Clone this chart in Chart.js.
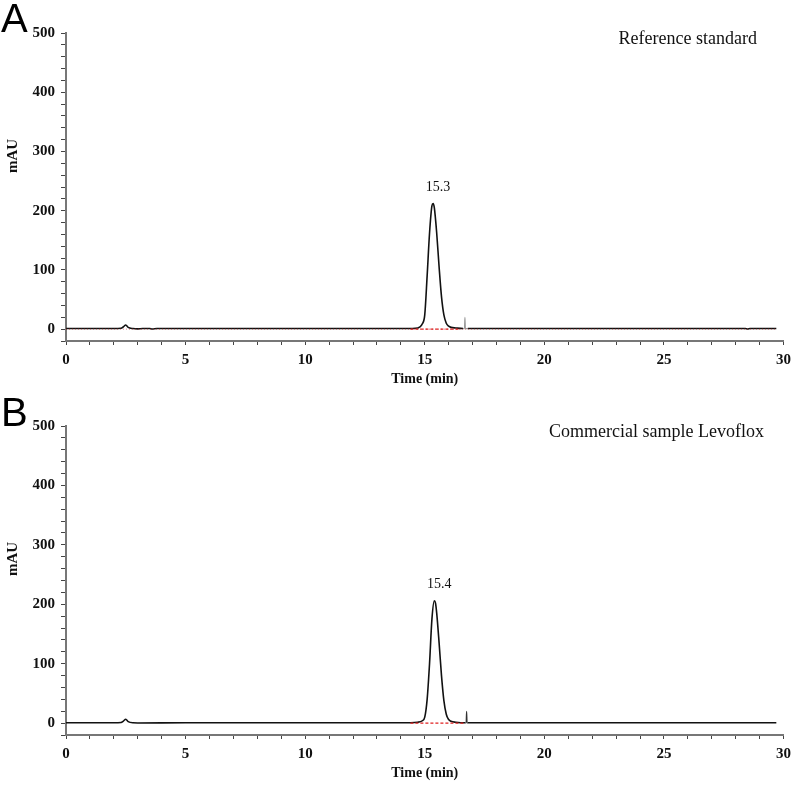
<!DOCTYPE html>
<html lang="en">
<head>
<meta charset="UTF-8">
<title>Chromatograms</title>
<script src="https://cdn.jsdelivr.net/npm/chart.js"></script>
<style>
  body { margin: 0; background: #fff; }
  .page { position: relative; width: 797px; height: 787px; }
  .panel { position: absolute; left: 0; }
  .letter {
    position: absolute;
    left: 1px;
    font-family: 'Liberation Sans', Arial, sans-serif;
    font-size: 40px;
    line-height: 40px;
    color: #000;
  }
</style>
</head>
<body>
<div class="page">
  <canvas id="chartA" class="panel" width="797" height="393" style="top:0"></canvas>
  <canvas id="chartB" class="panel" width="797" height="394" style="top:393px"></canvas>
  <div class="letter" style="top:-2px">A</div>
  <div class="letter" style="top:392px">B</div>
</div>

<script>
// panel A - reference standard
const timeA = [0, 1, 2, 2.3, 2.4, 2.5, 2.6, 2.8, 3.0, 3.2, 3.5, 3.6, 3.8, 5, 8, 11, 14, 14.6, 14.8, 14.9,
  15.0, 15.1, 15.2, 15.3, 15.35, 15.4, 15.5, 15.6, 15.7, 15.8, 15.9, 16.0, 16.1, 16.3, 16.6, 16.66, 16.68, 16.7, 16.8, 18,
  21, 23.5, 24, 26, 28.4, 28.5, 28.6, 29.7];
const mauA = [1, 1, 1, 1.5, 4, 7, 3, 1, 0.5, 1, 1, 0.3, 1, 1, 1, 1, 1, 1.5, 4, 9,
  24, 90, 162, 208, 212, 205, 162, 105, 55, 24, 10, 5, 3, 2, 1, 1, 20, 1, 1, 1,
  1, 1, 1, 1, 1, 0.3, 1, 1];
const baselineA = [14.4, 16.5];   // integration baseline start / end (min)
const spikeA = [16.6, 16.8];
const peakLabelA = '15.3';
const titleA = 'Reference standard';

// panel B - commercial sample
const timeB = [0, 1, 2, 2.3, 2.4, 2.5, 2.6, 2.8, 3.0, 5, 8, 11, 14, 14.7, 14.9, 15.0, 15.1, 15.2, 15.3, 15.4,
  15.45, 15.5, 15.6, 15.7, 15.8, 15.9, 16.0, 16.1, 16.3, 16.7, 16.73, 16.75, 16.77, 16.8, 20, 25, 29.7];
const mauB = [0.5, 0.5, 0.5, 1, 3.5, 6.5, 2.5, 0.5, 0.3, 0.5, 0.5, 0.5, 0.5, 1.5, 4, 10, 40, 100, 175, 206,
  202, 185, 135, 80, 38, 15, 6, 3, 1.5, 0.5, 0.5, 20, 0.5, 0.5, 0.5, 0.5, 0.5];
const baselineB = [14.4, 16.65];
const spikeB = [16.7, 16.8];
const peakLabelB = '15.4';
const titleB = 'Commercial sample Levoflox';

// axes
const xRange = [0, 30];
const yRange = [-20, 500];

const serif = "'Liberation Serif', 'Times New Roman', serif";

function makeChart(id, time, mau, baseline, spike, spikeColor, fullBaseline, peakLabel, title, titleRight, mauY) {
  const points = time.map((t, i) => ({ x: t, y: mau[i] }));
  const datasets = [];
  if (fullBaseline) {
    datasets.push({
      data: [{ x: time[0], y: 0 }, { x: time[time.length - 1], y: 0 }],
      borderColor: 'rgba(200,40,40,0.55)',
      borderWidth: 1,
      borderDash: [1, 2],
      pointRadius: 0
    });
  }
  datasets.push({
    data: [{ x: baseline[0], y: 0 }, { x: baseline[1], y: 0 }],
    borderColor: '#e02020',
    borderWidth: 1.2,
    borderDash: [3, 2],
    pointRadius: 0
  });
  datasets.push({
    data: points,
    borderColor: '#111',
    borderWidth: 1.6,
    pointRadius: 0,
    cubicInterpolationMode: 'monotone',
    segment: {
      borderColor: c => (c.p0.parsed.x >= spike[0] && c.p1.parsed.x <= spike[1]) ? spikeColor : undefined,
      borderWidth: c => (c.p0.parsed.x >= spike[0] && c.p1.parsed.x <= spike[1]) ? 1.2 : undefined
    }
  });

  const labels = {
    id: 'labels',
    afterDatasetsDraw(chart) {
      const { ctx, chartArea, scales } = chart;
      let top = 0;
      mau.forEach((v, i) => { if (v > mau[top]) top = i; });
      ctx.save();
      ctx.fillStyle = '#111';
      ctx.textBaseline = 'middle';
      ctx.font = '14px ' + serif;
      ctx.textAlign = 'center';
      ctx.fillText(peakLabel, scales.x.getPixelForValue(time[top]) + 5, scales.y.getPixelForValue(mau[top]) - 16);

      ctx.font = '18px ' + serif;
      ctx.textAlign = 'right';
      ctx.fillText(title, titleRight, chartArea.top + 6);

      ctx.font = 'bold 15px ' + serif;
      ctx.translate(13, mauY);
      ctx.rotate(-Math.PI / 2);
      ctx.textAlign = 'center';
      ctx.fillText('mAU', 0, 0);
      ctx.restore();
    }
  };

  return new Chart(document.getElementById(id), {
    type: 'line',
    data: { datasets },
    options: {
      responsive: false,
      animation: false,
      devicePixelRatio: 1,
      layout: { padding: { top: 33, right: 9, left: 0, bottom: 0 } },
      plugins: { legend: { display: false }, tooltip: { enabled: false } },
      scales: {
        x: {
          type: 'linear',
          min: xRange[0],
          max: xRange[1],
          afterFit: s => { s.height = 52; },
          border: { display: true, color: '#777', width: 2 },
          grid: { drawOnChartArea: false, drawTicks: true, tickLength: 4, tickColor: '#444' },
          ticks: {
            stepSize: 1,
            autoSkip: false,
            maxRotation: 0,
            padding: 6,
            color: '#111',
            font: { family: serif, size: 15, weight: 'bold' },
            callback: v => (v % 5 === 0 ? v : '')
          },
          title: {
            display: true,
            text: 'Time (min)',
            color: '#111',
            font: { family: serif, size: 14, weight: 'bold' },
            padding: { top: 0, bottom: 5 }
          }
        },
        y: {
          min: yRange[0],
          max: yRange[1],
          afterFit: s => { s.width = 66; },
          border: { display: true, color: '#777', width: 2 },
          grid: { drawOnChartArea: false, drawTicks: true, tickLength: 5, tickColor: '#444' },
          ticks: {
            stepSize: 20,
            autoSkip: false,
            padding: 6,
            color: '#111',
            font: { family: serif, size: 15, weight: 'bold' },
            callback: v => (v >= 0 && v % 100 === 0 ? v : '')
          }
        }
      }
    },
    plugins: [labels]
  });
}

makeChart('chartA', timeA, mauA, baselineA, spikeA, '#999', true, peakLabelA, titleA, 757, 156);
makeChart('chartB', timeB, mauB, baselineB, spikeB, '#333', false, peakLabelB, titleB, 764, 166);
</script>
</body>
</html>
